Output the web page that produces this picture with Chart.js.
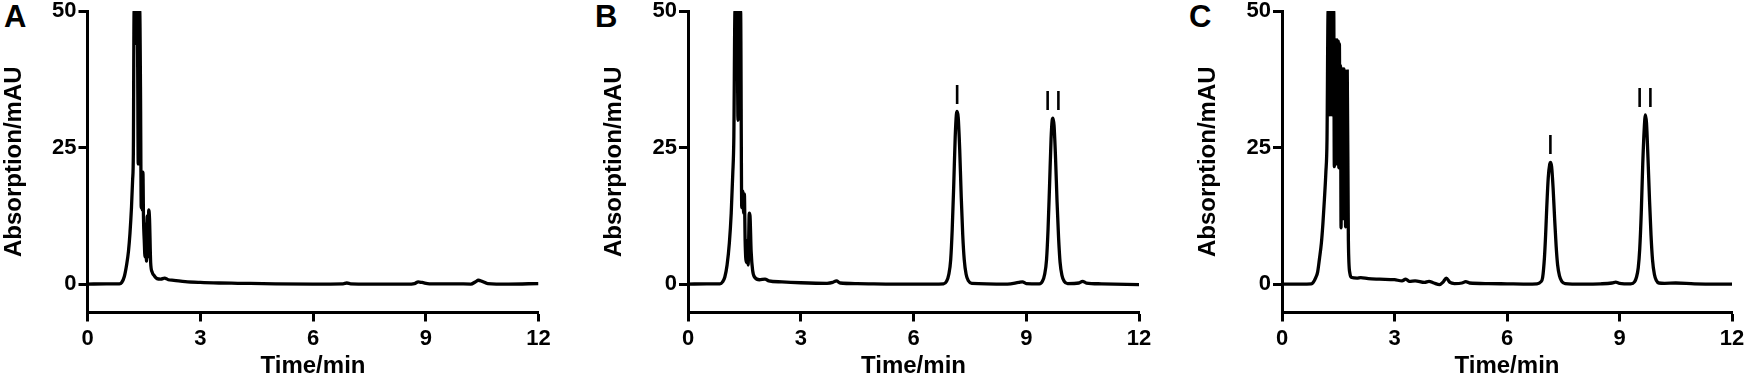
<!DOCTYPE html>
<html>
<head>
<meta charset="utf-8">
<script src="https://cdn.jsdelivr.net/npm/chart.js@4.4.1/dist/chart.umd.min.js"></script>
<style>
html,body{margin:0;padding:0;background:#fff;width:1748px;height:381px;overflow:hidden;}
.panel{position:absolute;top:0;}
.letter{position:absolute;top:1px;font:bold 31px "Liberation Sans",Arial,sans-serif;color:#000;line-height:31px;}
</style>
</head>
<body>
<div class="letter" style="left:4px">A</div>
<div class="letter" style="left:595px">B</div>
<div class="letter" style="left:1189px">C</div>
<canvas id="cA" class="panel" style="left:0px" width="560" height="381"></canvas>
<canvas id="cB" class="panel" style="left:600px" width="560" height="381"></canvas>
<canvas id="cC" class="panel" style="left:1194px" width="554" height="381"></canvas>
<script>
// ---- axis ticks ----
const xTickValues = [0, 3, 6, 9, 12];
const xTickLabels = ['0', '3', '6', '9', '12'];
const yTickValues = [0, 25, 50];
const yTickLabels = ['0', '25', '50'];
const xTitle = 'Time/min';
const yTitle = 'Absorption/mAU';

// ---- panel A ----
const timeA = [0, 0.5, 0.85, 0.91, 0.98, 1.04, 1.09, 1.13, 1.17, 1.20, 1.22, 1.24, 1.26, 1.275, 1.29, 1.31, 1.33, 1.35, 1.37, 1.39, 1.41, 1.43, 1.445, 1.46, 1.475, 1.49, 1.51, 1.53, 1.55, 1.57, 1.59, 1.61, 1.63, 1.65, 1.68, 1.72, 1.78, 1.85, 1.95, 2.05, 2.15, 2.3, 2.6, 3.0, 3.5, 4.0, 5.0, 6.0, 6.8, 6.9, 7.0, 7.5, 8.5, 8.7, 8.8, 8.9, 9.1, 9.8, 10.2, 10.32, 10.4, 10.5, 10.65, 11.2, 12.0];
const signalA = [0, 0.05, 0.05, 0.3, 1.4, 3.5, 6, 9.3, 14, 19, 24, 50, 44, 50, 47, 50, 46, 22, 50, 50, 36, 14, 19, 13.5, 20.5, 12, 8, 5, 11, 4.2, 12.5, 5, 13.6, 12, 4, 2.2, 1.5, 1.0, 0.9, 1.1, 0.8, 0.7, 0.45, 0.3, 0.2, 0.15, 0.05, 0, 0.05, 0.2, 0.05, 0, 0, 0.1, 0.4, 0.3, 0.05, 0.05, 0, 0.4, 0.7, 0.5, 0.1, 0, 0.1];

// ---- panel B ----
const timeB = [0, 0.5, 0.85, 0.92, 0.98, 1.04, 1.10, 1.15, 1.19, 1.22, 1.25, 1.27, 1.29, 1.31, 1.33, 1.35, 1.37, 1.40, 1.43, 1.46, 1.48, 1.50, 1.52, 1.55, 1.58, 1.60, 1.63, 1.65, 1.68, 1.72, 1.78, 1.9, 2.05, 2.15, 2.5, 3.0, 3.7, 3.85, 3.95, 4.05, 4.5, 5.5, 6.5, 6.8, 6.88, 6.94, 6.99, 7.03, 7.07, 7.11, 7.14, 7.16, 7.19, 7.23, 7.27, 7.31, 7.35, 7.40, 7.46, 7.55, 8.5, 8.8, 8.9, 9.0, 9.35, 9.43, 9.49, 9.54, 9.58, 9.62, 9.66, 9.69, 9.71, 9.74, 9.78, 9.82, 9.86, 9.90, 9.95, 10.01, 10.1, 10.4, 10.5, 10.6, 11.0, 12.0];
const signalB = [0, 0.05, 0.05, 0.4, 1.3, 3.5, 7.5, 13, 20, 27, 50, 45, 50, 47, 30, 50, 48, 50, 14, 17, 13, 16.5, 8, 4, 8, 3.5, 13, 12.5, 6, 2.5, 1.2, 0.8, 0.9, 0.6, 0.4, 0.25, 0.15, 0.3, 0.6, 0.2, 0.1, 0, 0, 0.05, 0.5, 1.8, 4.5, 10, 18, 27, 31, 31.6, 30.5, 24.5, 16, 9, 4.5, 1.8, 0.6, 0.15, 0, 0.3, 0.4, 0.1, 0.05, 0.5, 1.8, 4.5, 10, 18, 26.5, 30, 30.4, 29, 23, 15, 8.5, 4, 1.6, 0.5, 0.1, 0.2, 0.5, 0.2, 0.05, -0.1];
const peakTextB = ['I', 'II'];
const peakTimeB = [7.16, 9.71];
const peakHeightB = [31.6, 30.4];

// ---- panel C ----
const timeC = [0, 0.5, 0.78, 0.83, 0.9, 0.95, 1.0, 1.05, 1.09, 1.13, 1.17, 1.20, 1.23, 1.245, 1.26, 1.275, 1.29, 1.305, 1.32, 1.335, 1.35, 1.365, 1.38, 1.395, 1.41, 1.425, 1.44, 1.455, 1.47, 1.485, 1.50, 1.515, 1.53, 1.545, 1.56, 1.575, 1.59, 1.605, 1.62, 1.635, 1.65, 1.665, 1.68, 1.695, 1.71, 1.725, 1.74, 1.77, 1.81, 1.86, 2.0, 2.1, 2.3, 2.6, 3.0, 3.2, 3.3, 3.4, 3.55, 3.8, 3.92, 4.05, 4.2, 4.3, 4.38, 4.48, 4.6, 4.8, 4.9, 5.0, 5.5, 6.0, 6.5, 6.8, 6.9, 6.95, 7.0, 7.03, 7.06, 7.10, 7.14, 7.16, 7.19, 7.23, 7.27, 7.31, 7.35, 7.40, 7.46, 7.55, 8.0, 8.5, 8.8, 8.9, 9.0, 9.3, 9.40, 9.45, 9.50, 9.54, 9.58, 9.62, 9.66, 9.69, 9.72, 9.76, 9.80, 9.84, 9.88, 9.93, 9.98, 10.05, 10.2, 10.5, 11.0, 12.0];
const signalC = [0, 0, 0.05, 0.3, 1.2, 2.2, 4.7, 7.5, 11, 15.4, 20.5, 26.4, 50, 36, 50, 31, 50, 40, 50, 31, 50, 45, 50, 21.5, 44.7, 28, 44.7, 22, 44.7, 30, 44.5, 21.3, 44, 26, 40, 10.3, 39.4, 20, 39.4, 12, 39.4, 15, 39, 10.5, 39, 25, 39, 8, 2, 1.2, 1.1, 1.2, 1.0, 0.9, 0.8, 0.6, 0.9, 0.5, 0.6, 0.3, 0.5, 0.2, -0.1, 0.4, 1.1, 0.3, 0.1, 0.2, 0.45, 0.2, 0.1, 0.05, 0, 0.05, 0.4, 1.2, 5, 9, 14, 19.5, 22, 22.3, 21.5, 17.5, 12, 7, 3.5, 1.5, 0.5, 0.1, 0, 0.05, 0.2, 0.35, 0.15, 0.05, 0.4, 1.2, 3, 6.5, 13, 22, 28.5, 31, 29.5, 23, 15.5, 9, 4.5, 1.8, 0.7, 0.2, 0.15, 0.2, 0.05, 0];
const peakTextC = ['I', 'II'];
const peakTimeC = [7.16, 9.68];
const peakHeightC = [22.3, 31];

const FAMILY = '"Liberation Sans", Arial, Helvetica, sans-serif';

const peakLabelPlugin = {
  id: 'peakLabels',
  afterDatasetsDraw(chart, args, opts) {
    const texts = opts.texts || [], times = opts.times || [], heights = opts.heights || [];
    const {ctx} = chart;
    const xs = chart.scales.x, ys = chart.scales.y;
    ctx.save();
    ctx.font = '28px ' + FAMILY;
    ctx.fillStyle = '#000';
    ctx.textAlign = 'center';
    ctx.textBaseline = 'alphabetic';
    texts.forEach((t, i) => {
      const multi = t.length > 1;
      ctx.letterSpacing = multi ? '3px' : '0px';
      ctx.fillText(t, xs.getPixelForValue(times[i]) + (multi ? 1.5 : 0), ys.getPixelForValue(heights[i]) - 8);
    });
    ctx.restore();
  }
};

function points(ts, vs) { return ts.map((t, i) => ({x: t, y: vs[i]})); }

function makeChart(id, ts, vs, yWidth, padRight, labels) {
  const gridCfg = {drawOnChartArea: false, drawTicks: true, tickLength: 9, tickWidth: 3, tickColor: '#000'};
  const borderCfg = {display: true, color: '#000', width: 3};
  const tickFont = {family: FAMILY, size: 22, weight: 'bold'};
  const titleFont = {family: FAMILY, size: 24, weight: 'bold'};
  return new Chart(document.getElementById(id), {
    type: 'line',
    data: {datasets: [{data: points(ts, vs), borderColor: '#000', borderWidth: 3.3, pointRadius: 0, fill: false, cubicInterpolationMode: 'monotone'}]},
    options: {
      responsive: false, animation: false, events: [],
      layout: {padding: {left: 0, right: padRight, top: 11, bottom: 0}},
      plugins: {legend: {display: false}, tooltip: {enabled: false}, peakLabels: labels},
      scales: {
        x: {
          type: 'linear', min: 0, max: 12,
          afterBuildTicks: s => { s.ticks = xTickValues.map(v => ({value: v})); },
          ticks: {color: '#000', font: tickFont, padding: 4, maxRotation: 0, autoSkip: false, callback: (v, i) => xTickLabels[i]},
          grid: gridCfg, border: borderCfg,
          title: {display: true, text: xTitle, color: '#000', font: titleFont, padding: {top: 0, bottom: 0}},
          afterFit: s => { s.height = 68.5; s.paddingLeft = 0; s.paddingRight = 0; }
        },
        y: {
          type: 'linear', min: -5.2, max: 50,
          afterBuildTicks: s => { s.ticks = yTickValues.map(v => ({value: v})); },
          ticks: {color: '#000', font: tickFont, padding: 2, autoSkip: false, callback: (v, i) => yTickLabels[i]},
          grid: gridCfg, border: borderCfg,
          title: {display: true, text: yTitle, color: '#000', font: titleFont, padding: {top: 0, bottom: 0}},
          afterFit: s => { s.width = yWidth; s.paddingTop = 0; s.paddingBottom = 0; }
        }
      }
    },
    plugins: [peakLabelPlugin]
  });
}

makeChart('cA', timeA, signalA, 87.5, 21.5, {texts: [], times: [], heights: []});
makeChart('cB', timeB, signalB, 88, 21, {texts: peakTextB, times: peakTimeB, heights: peakHeightB});
makeChart('cC', timeC, signalC, 88, 16, {texts: peakTextC, times: peakTimeC, heights: peakHeightC});
</script>
</body>
</html>
